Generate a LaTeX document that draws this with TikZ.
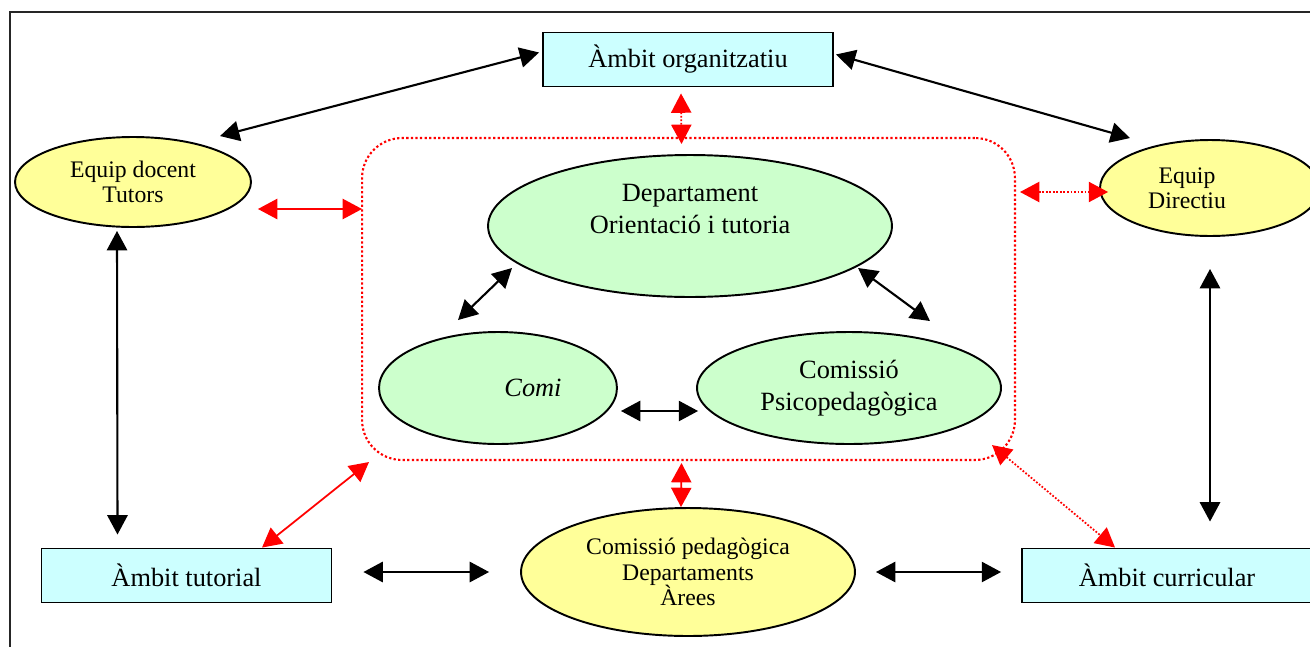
\documentclass[tikz,border=0pt]{standalone}
\usepackage{fontspec}
\setmainfont{Liberation Serif}
\usepackage{tikz}
\usetikzlibrary{shapes.geometric}
\usetikzlibrary{arrows.meta}
\definecolor{boxcyan}{HTML}{CCFFFF}
\definecolor{ellgroc}{HTML}{FFFF99}
\definecolor{ellverd}{HTML}{CCFFCC}

\begin{document}
\begin{tikzpicture} [x=0.02cm, y=-0.02cm,
  >={Triangle[length=11pt,width=11.5pt]},
  ambit/.style={draw, line width=1.1pt, fill=boxcyan, rectangle, inner sep=0pt, minimum width=5.8cm, minimum height=1.08cm, font=\fontsize{15}{18}\selectfont},
  groc/.style={draw, line width=1.1pt, fill=ellgroc, ellipse, inner sep=0pt, align=center, font=\fontsize{13.5}{14.5}\selectfont},
  verd/.style={draw, line width=1.1pt, fill=ellverd, ellipse, inner sep=0pt, align=center, font=\fontsize{15}{18}\selectfont},
  fletxa/.style={<->, line width=1.2pt},
  fvermella/.style={<->, red, line width=1pt},
  fpunts/.style={<->, red, line width=1pt, densely dotted}]
\useasboundingbox (0,0) rectangle (1310,646);
\draw[line width=0.7pt, black!85] (10,12) rectangle (1340,680);
% ambits
\node[ambit] (org) at (688,59.5) {Àmbit organitzatiu};
\node[ambit] (tutorial) at (186.5,575.5) {Àmbit tutorial};
\node[ambit] (curric) at (1167,575.5) {Àmbit curricular};
% equips
\node[groc, minimum width=4.72cm, minimum height=1.8cm] (docent) at (133,182) {Equip docent\\Tutors};
\node[groc, minimum width=4.4cm, minimum height=1.92cm] (directiu) at (1210,188) {Equip\hspace*{0.92cm}\\Directiu\hspace*{0.92cm}};
\node[groc, minimum width=6.68cm, minimum height=2.56cm] (pedag) at (688,572) {Comissió pedagògica\\Departaments\\Àrees};
% nucli
\node[draw=red, line width=1.2pt, dash pattern=on 1.3pt off 1.3pt, rounded corners=0.8cm, minimum width=13.06cm, minimum height=6.44cm, inner sep=0pt] (nucli) at (688.5,299) {};
\node[verd, minimum width=8.08cm, minimum height=2.84cm] (dept) at (690,226) {Departament\\Orientació i tutoria\\[0.05cm]};
\node[verd, minimum width=4.76cm, minimum height=2.24cm] (comi) at (498,388) {\hspace*{1.4cm}\textit{Comi}};
\node[verd, minimum width=6.08cm, minimum height=2.24cm] (psico) at (849,388) {Comissió\\Psicopedagògica};
% connexions
\draw[fletxa] ([shift={(87,0)}]docent.north) -- ([shift={(-3,-7)}]org.west);
\draw[fletxa] ([shift={(2,-5)}]org.east) -- ([shift={(-80,-1)}]directiu.north);
\draw[fpunts] ([shift={(-7,6)}]org.south) -- ([shift={(-7,7)}]nucli.north);
\draw[fvermella] ([shift={(6,27)}]docent.east) -- ([shift={(1,-90)}]nucli.west);
\draw[fpunts] ([shift={(4,-107)}]nucli.east) -- ([shift={(9,4)}]directiu.west);
\draw[fletxa] ([shift={(-40,-11)}]comi.north) -- ([shift={(-178,42)}]dept.center);
\draw[fletxa] ([shift={(168,42)}]dept.center) -- ([shift={(81,-10)}]psico.north);
\draw[fletxa] ([shift={(3,23)}]comi.east) -- ([shift={(2,23)}]psico.west);
\draw[fletxa] ([shift={(-16,3)}]docent.south) -- ([shift={(-69,-13)}]tutorial.north);
\draw[fletxa] ([shift={(0,32)}]directiu.south) -- ([shift={(43,-26)}]curric.north);
\draw[fvermella] ([shift={(75.5,0)}]tutorial.north) -- ([shift={(8,1)}]nucli.south west);
\draw[fvermella] ([shift={(-7,2)}]nucli.south) -- ([shift={(-7,0)}]pedag.north);
\draw[fpunts] ([shift={(-24,-16)}]nucli.south east) -- ([shift={(-52,0)}]curric.north);
\draw[fletxa] ([shift={(31,-3.5)}]tutorial.east) -- ([shift={(-31,0)}]pedag.west);
\draw[fletxa] ([shift={(20,0)}]pedag.east) -- ([shift={(-20,-3.5)}]curric.west);
\end{tikzpicture}
\end{document}
